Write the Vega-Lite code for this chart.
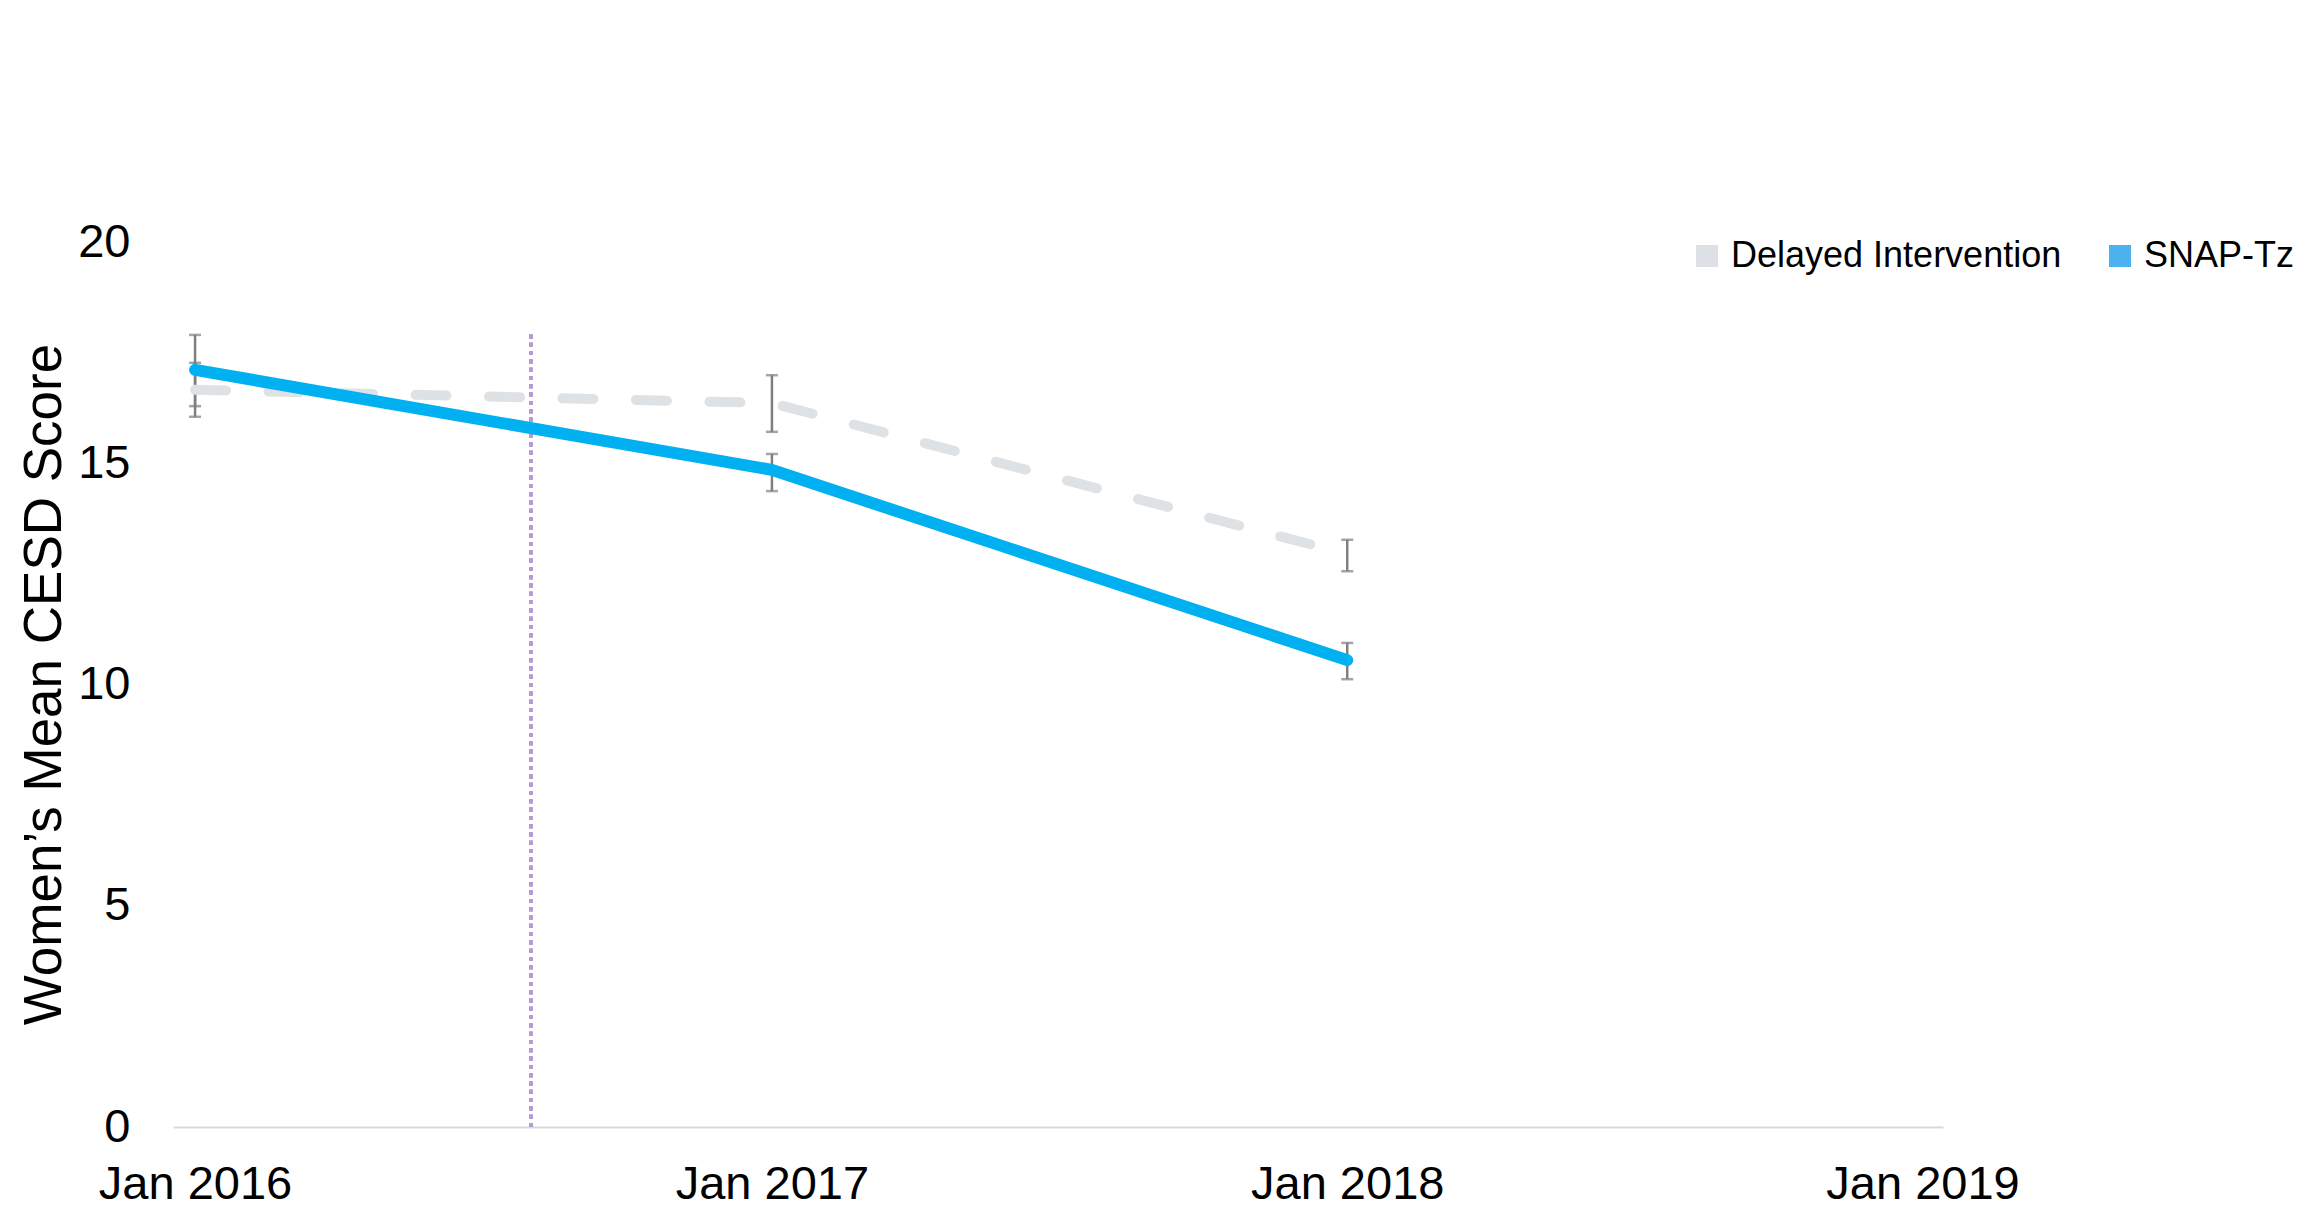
{
  "$schema": "https://vega.github.io/schema/vega-lite/v6.json",
  "autosize": "none",
  "width": 1770,
  "height": 885,
  "padding": {"left": 173, "top": 242, "right": 377, "bottom": 80},
  "background": "white",
  "config": {
    "view": {"stroke": null},
    "font": "Liberation Sans"
  },
  "data": {
    "values": [
      {"group": "Delayed Intervention", "date": "2016-01-01", "mean": 16.66, "lo": 16.05, "hi": 17.27},
      {"group": "Delayed Intervention", "date": "2017-01-01", "mean": 16.36, "lo": 15.71, "hi": 16.99},
      {"group": "Delayed Intervention", "date": "2018-01-01", "mean": 12.95, "lo": 12.56, "hi": 13.27},
      {"group": "SNAP-Tz", "date": "2016-01-01", "mean": 17.11, "lo": 16.29, "hi": 17.9},
      {"group": "SNAP-Tz", "date": "2017-01-01", "mean": 14.85, "lo": 14.37, "hi": 15.21},
      {"group": "SNAP-Tz", "date": "2018-01-01", "mean": 10.55, "lo": 10.12, "hi": 10.94}
    ]
  },
  "encoding": {
    "x": {
      "field": "date",
      "type": "temporal",
      "scale": {
        "type": "utc",
        "domain": [
          {"year": 2015, "month": 12, "date": 18, "utc": true},
          {"year": 2019, "month": 1, "date": 14, "utc": true}
        ]
      },
      "axis": {
        "title": null,
        "format": "%b %Y",
        "values": [
          {"year": 2016, "month": 1, "date": 1, "utc": true},
          {"year": 2017, "month": 1, "date": 1, "utc": true},
          {"year": 2018, "month": 1, "date": 1, "utc": true},
          {"year": 2019, "month": 1, "date": 1, "utc": true}
        ],
        "domain": true,
        "domainColor": "#D9D9D9",
        "domainWidth": 2,
        "ticks": false,
        "grid": false,
        "labelFontSize": 47,
        "labelColor": "#000000",
        "labelPadding": 34,
        "labelLimit": 0,
        "labelFlush": false,
        "labelOverlap": false
      }
    }
  },
  "layer": [
    {
      "mark": {"type": "rule", "color": "#B49BD6", "strokeWidth": 3.5, "strokeDash": [4, 4.3]},
      "encoding": {
        "x": {"datum": {"year": 2016, "month": 8, "date": 1, "utc": true}, "type": "temporal"},
        "y": {"datum": 0, "type": "quantitative"},
        "y2": {"datum": 18}
      }
    },
    {
      "mark": {
        "type": "errorbar",
        "ticks": {"size": 12, "thickness": 2.5, "color": "#7F7F7F"},
        "rule": {"strokeWidth": 2.5, "color": "#7F7F7F"}
      },
      "encoding": {
        "y": {"field": "lo", "type": "quantitative", "title": "Women’s Mean CESD Score"},
        "y2": {"field": "hi"}
      }
    },
    {
      "transform": [{"filter": "datum.group === 'Delayed Intervention'"}],
      "mark": {"type": "line", "strokeWidth": 10, "strokeDash": [31, 42.5], "strokeCap": "round", "strokeJoin": "round"},
      "encoding": {
        "y": {"field": "mean", "type": "quantitative", "title": "Women’s Mean CESD Score"},
        "color": {"field": "group", "type": "nominal"}
      }
    },
    {
      "transform": [{"filter": "datum.group === 'SNAP-Tz'"}],
      "mark": {"type": "line", "strokeWidth": 12, "strokeCap": "round", "strokeJoin": "round"},
      "encoding": {
        "y": {
          "field": "mean",
          "type": "quantitative",
          "title": "Women’s Mean CESD Score",
          "scale": {"domain": [0, 20]},
          "axis": {
            "values": [0, 5, 10, 15, 20],
            "domain": false,
            "ticks": false,
            "grid": false,
            "labelFontSize": 47,
            "labelColor": "#000000",
            "labelPadding": 43,
            "titleFontSize": 53,
            "titleFontWeight": "normal",
            "titleColor": "#000000",
            "titleAngle": -90,
            "titleX": -113,
            "titleY": 442,
            "titleAlign": "center",
            "titleBaseline": "alphabetic",
            "titleLimit": 0
          }
        },
        "color": {
          "field": "group",
          "type": "nominal",
          "scale": {"domain": ["Delayed Intervention", "SNAP-Tz"], "range": ["#DFE2E5", "#00B0F0"]},
          "legend": {
            "title": null,
            "orient": "none",
            "direction": "horizontal",
            "legendX": 1516,
            "legendY": -4,
            "symbolType": "square",
            "symbolSize": 484,
            "symbolStrokeWidth": 0,
            "labelFontSize": 36,
            "labelColor": "#000000",
            "labelOffset": 6,
            "labelLimit": 0,
            "columnPadding": 40,
            "encode": {
              "symbols": {
                "update": {
                  "fill": {"signal": "datum.value === 'SNAP-Tz' ? '#4BB1EF' : '#DDE1E5'"},
                  "stroke": {"value": "transparent"},
                  "strokeDash": {"value": []}
                }
              }
            }
          }
        }
      }
    }
  ]
}
